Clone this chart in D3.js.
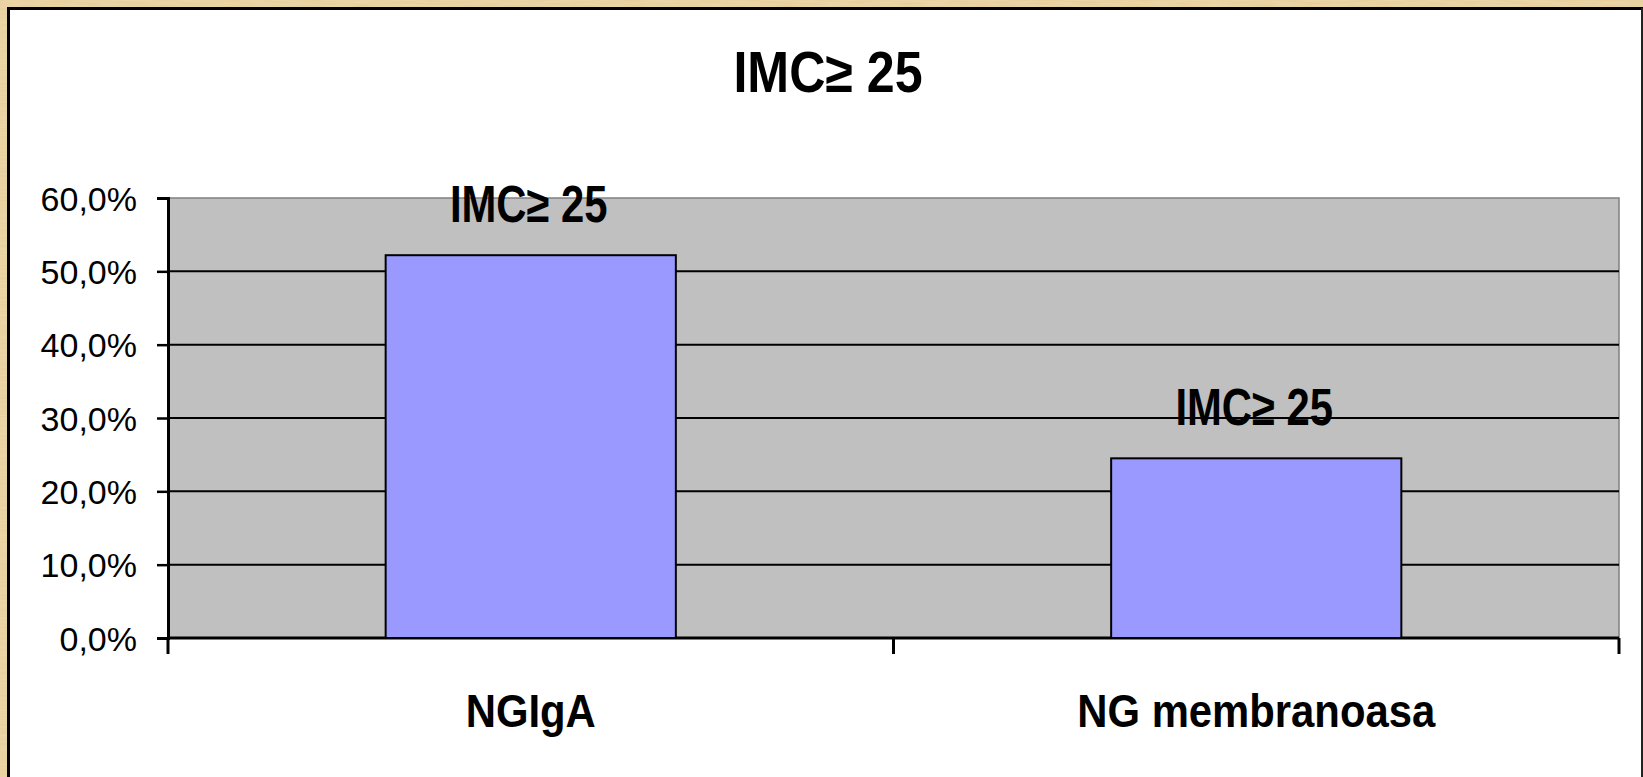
<!DOCTYPE html>
<html>
<head>
<meta charset="utf-8">
<script src="https://cdn.jsdelivr.net/npm/d3@7"></script>
<style>
  html, body { margin: 0; padding: 0; background: #e7cd98; overflow: hidden; }
  svg { display: block; }
  text { font-family: "Liberation Sans", Arial, sans-serif; fill: #000; }
</style>
</head>
<body>
<svg id="chart" width="1643" height="777"></svg>
<script>
// Chart data
const title = "IMC\u2265 25";
const categories = ["NGIgA", "NG membranoasa"];
const seriesName = "IMC\u2265 25";
const values = [0.522, 0.245];
const yTicks = [0, 0.1, 0.2, 0.3, 0.4, 0.5, 0.6];

const W = 1643, H = 777;
const svg = d3.select("#chart");

// Textured beige frame
const defs = svg.append("defs");
const filt = defs.append("filter").attr("id", "grain")
  .attr("x", 0).attr("y", 0).attr("width", "100%").attr("height", "100%");
filt.append("feTurbulence").attr("type", "fractalNoise")
  .attr("baseFrequency", "0.04 0.6").attr("numOctaves", 2).attr("seed", 3).attr("result", "noise");
filt.append("feColorMatrix").attr("in", "noise").attr("type", "matrix")
  .attr("values", "0 0 0 0 0.95  0 0 0 0 0.85  0 0 0 0 0.65  0 0 0 0.35 0").attr("result", "tint");
filt.append("feComposite").attr("in", "tint").attr("in2", "SourceGraphic").attr("operator", "over");

svg.append("rect").attr("width", W).attr("height", H).attr("fill", "#e6cc96").attr("filter", "url(#grain)");

// Chart panel
svg.append("rect")
  .attr("x", 8.5).attr("y", 8.5).attr("width", W - 8.5 + 20).attr("height", H)
  .attr("fill", "#fff").attr("stroke", "#000").attr("stroke-width", 3);
svg.append("line").attr("x1", 1642).attr("x2", 1642).attr("y1", 8).attr("y2", H)
  .attr("stroke", "#222").attr("stroke-width", 2);

// Plot geometry
const plot = { left: 168, right: 1619, top: 198, bottom: 638 };

const x = d3.scaleBand().domain(categories).range([plot.left, plot.right]).paddingInner(0).paddingOuter(0);
const y = d3.scaleLinear().domain([0, 0.6]).range([plot.bottom, plot.top]);
const barW = x.bandwidth() / 2.5; // gap width 150%

// Plot area background
svg.append("rect")
  .attr("x", plot.left).attr("y", plot.top)
  .attr("width", plot.right - plot.left).attr("height", plot.bottom - plot.top)
  .attr("fill", "#c0c0c0").attr("stroke", "#808080").attr("stroke-width", 1.5);

// Horizontal gridlines
svg.append("g").selectAll("line")
  .data(yTicks.filter(t => t > 0 && t < 0.6))
  .join("line")
  .attr("x1", plot.left).attr("x2", plot.right)
  .attr("y1", d => y(d)).attr("y2", d => y(d))
  .attr("stroke", "#000").attr("stroke-width", 2);

// Y axis
const yAxis = d3.axisLeft(y).tickValues(yTicks).tickSize(11).tickPadding(20)
  .tickFormat(d => d3.format(".1f")(d * 100).replace(".", ",") + "%");
const gy = svg.append("g").attr("transform", `translate(${plot.left},0)`).call(yAxis);
gy.select(".domain").attr("stroke", "#000").attr("stroke-width", 3);
gy.selectAll(".tick line").attr("stroke", "#000").attr("stroke-width", 2.5);
gy.selectAll(".tick text")
  .attr("font-size", 34).attr("dy", "0.36em")
  .style("font-family", "'Liberation Sans', Arial, sans-serif");

// X axis (category boundary ticks)
const gx = svg.append("g").attr("transform", `translate(0,${plot.bottom})`);
gx.append("line").attr("x1", plot.left).attr("x2", plot.right)
  .attr("stroke", "#000").attr("stroke-width", 3);
const bounds = categories.map(c => x(c)).concat([x(categories[categories.length - 1]) + x.bandwidth()]);
gx.selectAll("line.tk").data(bounds).join("line").attr("class", "tk")
  .attr("x1", d => d).attr("x2", d => d).attr("y1", 0).attr("y2", 16)
  .attr("stroke", "#000").attr("stroke-width", 3);
gx.selectAll("text").data(categories).join("text")
  .attr("transform", d => `translate(${x(d) + x.bandwidth() / 2},89) scale(0.89,1)`)
  .attr("text-anchor", "middle").attr("font-size", 47).attr("font-weight", "bold")
  .text(d => d);

// Bars
svg.append("g").selectAll("rect")
  .data(values)
  .join("rect")
  .attr("x", (d, i) => x(categories[i]) + (x.bandwidth() - barW) / 2)
  .attr("y", d => y(d))
  .attr("width", barW)
  .attr("height", d => plot.bottom - y(d))
  .attr("fill", "#9999ff").attr("stroke", "#000").attr("stroke-width", 2);

// Data labels (series name)
svg.append("g").selectAll("text")
  .data(values)
  .join("text")
  .attr("transform", (d, i) => `translate(${x(categories[i]) + x.bandwidth() / 2 - 2},${y(d) - 33}) scale(0.82,1)`)
  .attr("text-anchor", "middle").attr("font-size", 51).attr("font-weight", "bold")
  .text(seriesName);

// Title
svg.append("text")
  .attr("transform", `translate(828,92) scale(0.88,1)`)
  .attr("text-anchor", "middle").attr("font-size", 57).attr("font-weight", "bold")
  .text(title);
</script>
</body>
</html>
